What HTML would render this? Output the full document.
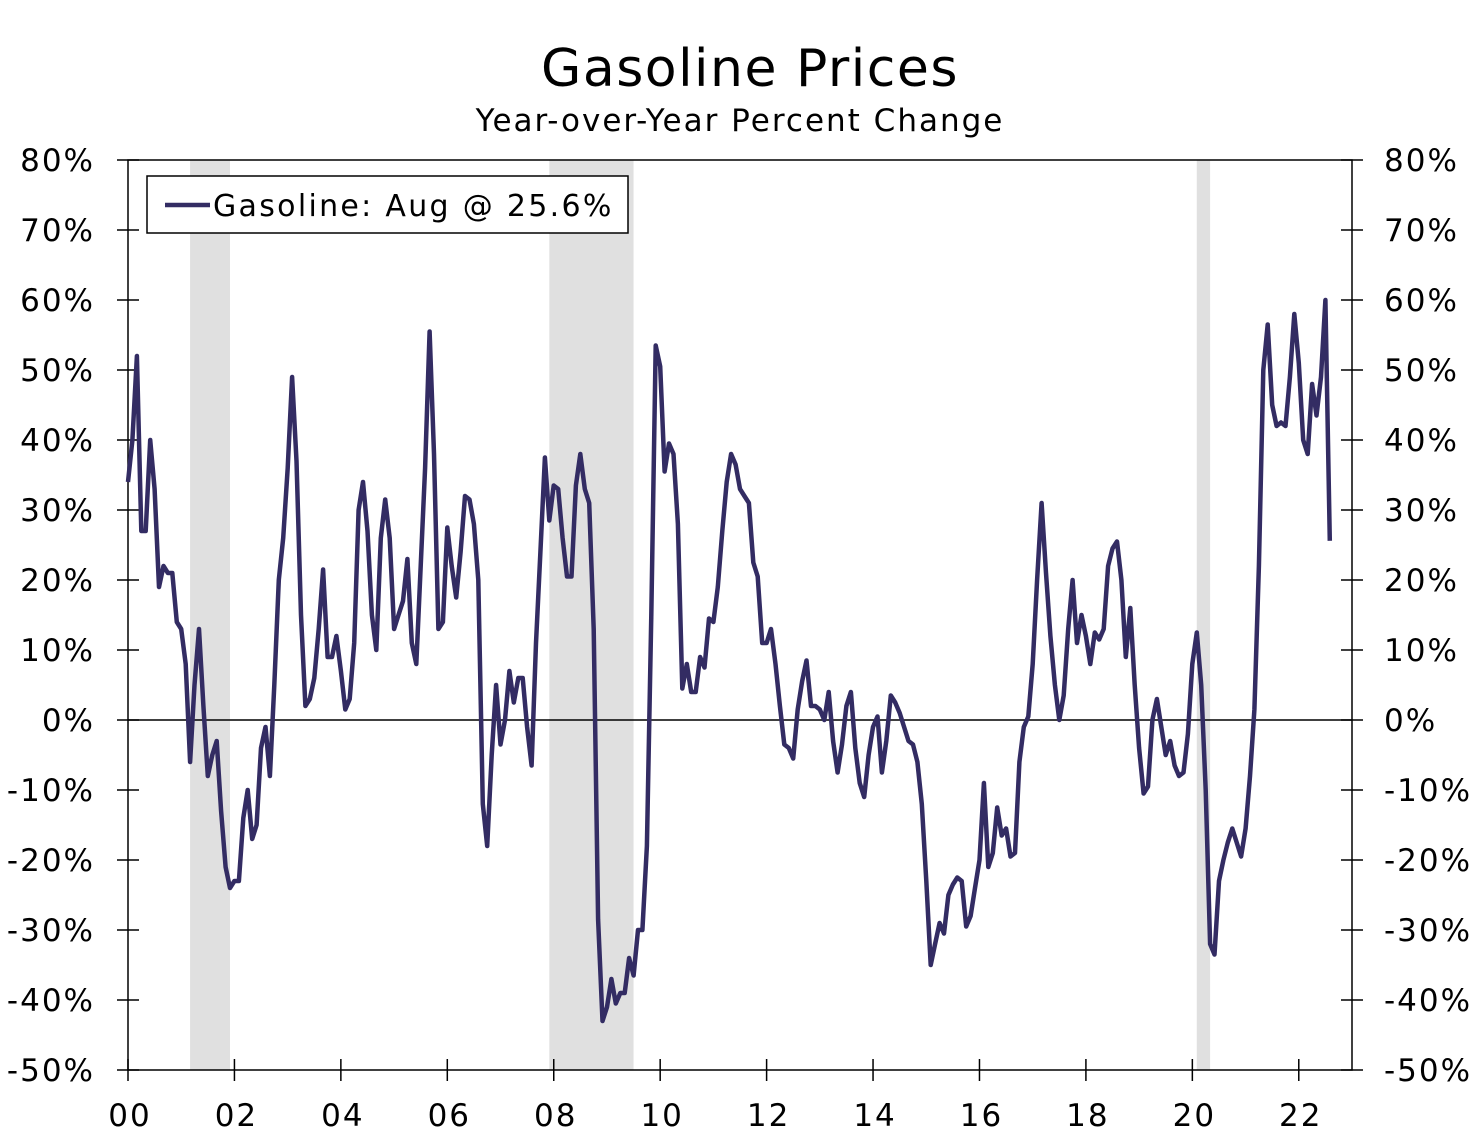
<!DOCTYPE html>
<html><head><meta charset="utf-8"><style>
body{margin:0;background:#fff;}
svg{display:block;font-family:"DejaVu Sans","Liberation Sans",sans-serif;}
</style></head><body>
<svg id="chart" width="1480" height="1136" viewBox="0 0 1480 1136"></svg>
<script>
const yTicks=[80,70,60,50,40,30,20,10,0,-10,-20,-30,-40,-50];
const xTickLabels=["00","02","04","06","08","10","12","14","16","18","20","22"];
const recessions=[[2001+2/12,2001+11/12],[2007+11/12,2009+6/12],[2020+1/12,2020+4/12]];
const gasoline=[
34,40,52,27,27,40,33,19,22,21,21,14,
13,8,-6,5,13,2,-8,-5,-3,-13,-21,-24,
-23,-23,-14,-10,-17,-15,-4,-1,-8,5,20,26,
36,49,37,15,2,3,6,13,21.5,9,9,12,
7,1.5,3,11,30,34,27,15,10,26,31.5,26,
13,15,17,23,11,8,22,36,55.5,38,13,14,
27.5,22,17.5,24,32,31.5,28,20,-12,-18,-5,5,
-3.5,0,7,2.5,6,6,-1,-6.5,11,24,37.5,28.5,
33.5,33,26,20.5,20.5,33.5,38,33,31,13,-28.5,-43,
-41,-37,-40.5,-39,-39,-34,-36.5,-30,-30,-18,15,53.5,
50.5,35.5,39.5,38,28,4.5,8,4,4,9,7.5,14.5,
14,19,27,34,38,36.5,33,32,31,22.5,20.5,11,
11,13,8,2,-3.5,-4,-5.5,1.5,5.5,8.5,2,2,
1.5,0,4,-3,-7.5,-3.5,2,4,-4,-9,-11,-5,
-1,0.5,-7.5,-3,3.5,2.5,1,-1,-3,-3.5,-6,-12,
-23,-35,-32,-29,-30.5,-25,-23.5,-22.5,-23,-29.5,-28,-24,
-20,-9,-21,-19,-12.5,-16.5,-15.5,-19.5,-19,-6,-1,0.5,
8,20,31,21,12,5,0,3.5,13,20,11,15,
12,8,12.5,11.5,13,22,24.5,25.5,20,9,16,5,
-4,-10.5,-9.5,0,3,-1,-5,-3,-6.5,-8,-7.5,-2,
8,12.5,5,-10,-32,-33.5,-23,-20,-17.5,-15.5,-17.5,-19.5,
-15.5,-8,1.5,22,50,56.5,45,42,42.5,42,49,58,
51,40,38,48,43.5,49,60,25.6
];
const NS="http://www.w3.org/2000/svg";
const svg=document.getElementById('chart');
const L=128,R=1352,T=160,B=1070;
const yMin=-50,yMax=80,xMin=2000,xMax=2023;
const ys=v=>B-(v-yMin)/(yMax-yMin)*(B-T);
const xs=t=>L+(t-xMin)/(xMax-xMin)*(R-L);
function mk(tag,attrs,parent){const e=document.createElementNS(NS,tag);for(const k in attrs)e.setAttribute(k,attrs[k]);(parent||svg).appendChild(e);return e;}
recessions.forEach((r,i)=>{
 const e=mk('rect',{x:xs(r[0]),y:T,width:xs(r[1])-xs(r[0]),height:B-T,fill:'#e0e0e0'});
 
 
});
const fr=mk('rect',{x:L,y:T,width:R-L,height:B-T,fill:'none',stroke:'#000','stroke-width':1.5});


const z=mk('line',{x1:L,x2:R,y1:ys(0),y2:ys(0),stroke:'#000','stroke-width':1.5});


yTicks.forEach(v=>{
 const y=ys(v);
 mk('line',{x1:L-11,x2:L+11,y1:y,y2:y,stroke:'#000','stroke-width':1.5});
 mk('line',{x1:R-11,x2:R+11,y1:y,y2:y,stroke:'#000','stroke-width':1.5});
 const t1=mk('text',{x:95,y:y+11,'text-anchor':'end','font-size':31,'letter-spacing':2});
 t1.textContent=v+'%';
 
 
 const t2=mk('text',{x:1384,y:y+11,'text-anchor':'start','font-size':31,'letter-spacing':2});
 t2.textContent=v+'%';
 
 
});
xTickLabels.forEach((lab,i)=>{
 const x=xs(2000+2*i);
 mk('line',{x1:x,x2:x,y1:B-11,y2:B+11,stroke:'#000','stroke-width':1.5});
 const t=mk('text',{x:x+2,y:1126,'text-anchor':'middle','font-size':31,'letter-spacing':2});
 t.textContent=lab;
 
 
});
const pts=gasoline.map((v,i)=>xs(2000+i/12).toFixed(1)+','+ys(v).toFixed(1)).join(' ');
const pl=mk('polyline',{points:pts,fill:'none',stroke:'#332c63','stroke-width':4.5,'stroke-linejoin':'round'});


const lg=mk('g',{});


mk('rect',{x:147,y:176,width:481,height:57,fill:'#fff',stroke:'#000','stroke-width':1.5},lg);
mk('line',{x1:165,x2:210,y1:205,y2:205,stroke:'#332c63','stroke-width':4.5},lg);
const lt=mk('text',{x:213,y:216,'font-size':30,'letter-spacing':2.3},lg);
lt.textContent='Gasoline: Aug @ 25.6%';


const tt=mk('text',{x:750,y:86,'text-anchor':'middle','font-size':52,'letter-spacing':1.5});
tt.textContent='Gasoline Prices';


const st=mk('text',{x:740,y:131,'text-anchor':'middle','font-size':31,'letter-spacing':2});
st.textContent='Year-over-Year Percent Change';


</script>
</body></html>
